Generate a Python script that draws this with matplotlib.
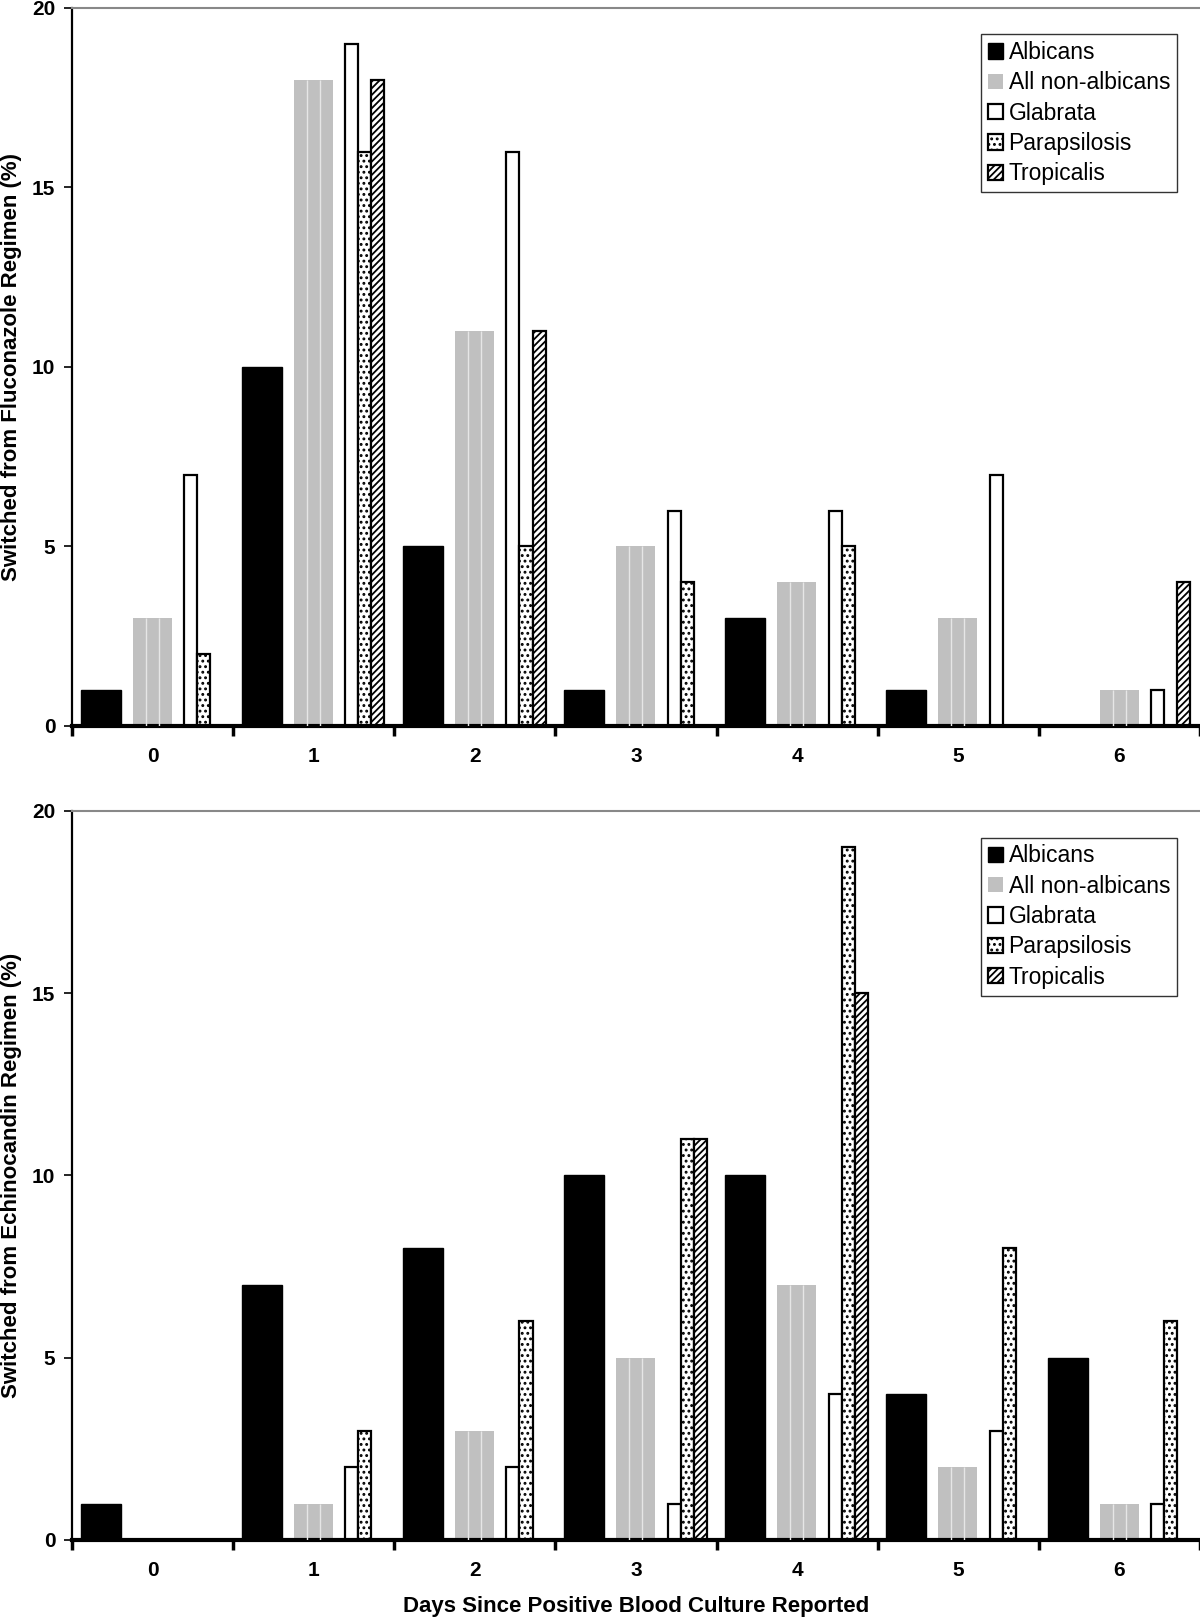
import matplotlib
matplotlib.use("Agg")
import matplotlib.pyplot as plt
import numpy as np
from matplotlib.patches import Patch

plt.rcParams['font.family'] = ['Liberation Sans', 'DejaVu Sans']
plt.rcParams['hatch.linewidth'] = 1.3

days = [0, 1, 2, 3, 4, 5, 6]
species = ["Albicans", "All non-albicans", "Glabrata", "Parapsilosis", "Tropicalis"]

# % switched from fluconazole regimen
fluc_albicans = [1, 10, 5, 1, 3, 1, 0]
fluc_nonalb = [3, 18, 11, 5, 4, 3, 1]
fluc_glabrata = [7, 19, 16, 6, 6, 7, 1]
fluc_parapsilosis = [2, 16, 5, 4, 5, 0, 0]
fluc_tropicalis = [0, 18, 11, 0, 0, 0, 4]

# % switched from echinocandin regimen
echi_albicans = [1, 7, 8, 10, 10, 4, 5]
echi_nonalb = [0, 1, 3, 5, 7, 2, 1]
echi_glabrata = [0, 2, 2, 1, 4, 3, 1]
echi_parapsilosis = [0, 3, 6, 11, 19, 8, 6]
echi_tropicalis = [0, 0, 0, 11, 15, 0, 0]

# bar layout inside each day slot (left offset, width), slot width = 1
offsets = [0.054, 0.377, 0.696, 0.777, 0.858]
widths = [0.248, 0.242, 0.081, 0.081, 0.081]
styles = [
    dict(facecolor="black", edgecolor="black", linewidth=1.0),
    dict(facecolor="#c0c0c0", edgecolor="#c0c0c0", linewidth=0),
    dict(facecolor="white", edgecolor="black", linewidth=1.6),
    dict(facecolor="white", edgecolor="black", linewidth=1.6, hatch="..."),
    dict(facecolor="white", edgecolor="black", linewidth=1.6, hatch="/////"),
]


def draw_panel(ax, series, ylabel):
    x = np.array(days, dtype=float)
    for k, vals in enumerate(series):
        vals = np.array(vals, dtype=float)
        ax.bar(x + offsets[k], vals, width=widths[k], align="edge", zorder=2, **styles[k])
        if k == 1:
            # white stripes on the grey bars
            for frac in (1 / 3, 2 / 3):
                xs = x + offsets[k] + widths[k] * frac
                ax.vlines(xs[vals > 0], 0, vals[vals > 0], color="#e6e6e6", lw=1.0, zorder=3)
    ax.set_xlim(0, 7)
    ax.set_ylim(0, 20)
    ax.set_yticks([0, 5, 10, 15, 20])
    ax.set_xticks(np.arange(0, 8))
    ax.set_xticklabels([])
    ax.set_xticks(np.array(days) + 0.5, minor=True)
    ax.set_xticklabels([str(d) for d in days], minor=True)
    ax.tick_params(axis="x", which="minor", length=0, pad=15, labelsize=15)
    ax.tick_params(axis="x", which="major", length=7, width=2.5, direction="out")
    ax.tick_params(axis="y", length=6, width=1.2, direction="out", labelsize=15, pad=6)
    for lab in ax.get_xticklabels(minor=True) + ax.get_yticklabels():
        lab.set_fontweight("bold")
    ax.spines["bottom"].set_linewidth(3)
    ax.spines["left"].set_linewidth(1.6)
    ax.spines["top"].set_color("#888888")
    ax.spines["top"].set_linewidth(1.5)
    ax.spines["right"].set_visible(False)
    ax.set_ylabel(ylabel, fontsize=16, fontweight="bold")
    ax.yaxis.set_label_coords(-0.044, 0.5)
    handles = [Patch(label=s, **styles[k]) for k, s in enumerate(species)]
    leg = ax.legend(handles=handles, loc="upper right", bbox_to_anchor=(0.9796, 0.9635),
                    borderaxespad=0, fontsize=16.5, frameon=True, fancybox=False,
                    handlelength=0.65, handleheight=0.65, handletextpad=0.25,
                    borderpad=0.3, labelspacing=0.32)
    leg.get_frame().set_edgecolor("black")
    leg.get_frame().set_linewidth(1.0)


fig = plt.figure(figsize=(12, 16.19), dpi=100)
ax1 = fig.add_axes([0.06, 0.5516, 0.94, 0.4435])
ax2 = fig.add_axes([0.06, 0.0488, 0.94, 0.4503])

draw_panel(ax1, [fluc_albicans, fluc_nonalb, fluc_glabrata, fluc_parapsilosis, fluc_tropicalis],
           "Switched from Fluconazole Regimen (%)")
draw_panel(ax2, [echi_albicans, echi_nonalb, echi_glabrata, echi_parapsilosis, echi_tropicalis],
           "Switched from Echinocandin Regimen (%)")
ax2.set_xlabel("Days Since Positive Blood Culture Reported", fontsize=16, fontweight="bold", labelpad=12)

fig.savefig("out.png", dpi=100)
